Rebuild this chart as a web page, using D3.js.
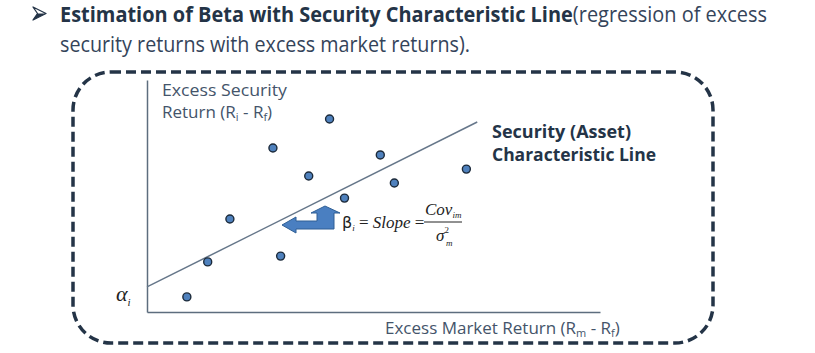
<!DOCTYPE html>
<html>
<head>
<meta charset="utf-8">
<script src="https://cdn.jsdelivr.net/npm/d3@7"></script>
<style>
  body { margin: 0; background: #fff; }
  svg { display: block; }
</style>
</head>
<body>
<div id="chart"></div>
<script>
// excess market return (x) vs excess security return (y), arbitrary units
var pointX = [0.88, 1.34, 1.83, 2.95, 2.78, 3.57, 4.03, 4.36, 5.15, 5.46, 7.05];
var pointY = [0.65, 2.16, 4.01, 2.41, 7.07, 5.86, 8.32, 4.91, 6.77, 5.56, 6.16];
// characteristic line ends
var lineX = [0, 7.29];
var lineY = [1.08, 8.19];
var xTitle = 'Excess Market Return';
var yTitle = ['Excess Security', 'Return'];
var lineLabel = ['Security (Asset)', 'Characteristic Line'];

var w = 815, h = 353;
var navy = '#243447', grey = '#44546a', blue = '#4f81bd';

var svg = d3.select('#chart').append('svg')
    .attr('width', w)
    .attr('height', h);

// heading bullet
svg.append('path')
    .attr('d', 'M33,7 L46,13.5 L33,20 L37.5,13.5 Z')
    .attr('fill', '#fff')
    .attr('stroke', navy)
    .attr('stroke-width', 1.3)
    .attr('stroke-linejoin', 'round');
svg.append('path')
    .attr('d', 'M37.5,13.5 L46,13.5 L33,20 Z')
    .attr('fill', navy);

var t1 = svg.append('text')
    .attr('x', 60).attr('y', 22)
    .attr('font-family', '"Open Sans", sans-serif')
    .attr('font-size', '21px')
    .attr('fill', '#34445a')
    .attr('textLength', 707)
    .attr('lengthAdjust', 'spacingAndGlyphs');
t1.append('tspan').attr('font-weight', 'bold').attr('fill', navy)
    .text('Estimation of Beta with Security Characteristic Line');
t1.append('tspan').text('(regression of excess');

svg.append('text')
    .attr('x', 60).attr('y', 52)
    .attr('font-family', '"Open Sans", sans-serif')
    .attr('font-size', '21px')
    .attr('fill', '#34445a')
    .attr('textLength', 410)
    .attr('lengthAdjust', 'spacingAndGlyphs')
    .text('security returns with excess market returns).');

// dashed frame
svg.append('rect')
    .attr('x', 73).attr('y', 72)
    .attr('width', 640).attr('height', 271)
    .attr('rx', 38).attr('ry', 38)
    .attr('fill', 'none')
    .attr('stroke', navy)
    .attr('stroke-width', 3.5)
    .attr('stroke-dasharray', '10,5');

var xscale = d3.scaleLinear().domain([0, 10]).range([147, 600]);
var yscale = d3.scaleLinear().domain([0, 10]).range([312, 80]);

var xAxis = d3.axisBottom(xscale).tickValues([]).tickSizeOuter(0);
var yAxis = d3.axisLeft(yscale).tickValues([]).tickSizeOuter(0);

svg.append('g')
    .attr('transform', 'translate(0,' + yscale(0) + ')')
    .call(xAxis);
svg.append('g')
    .attr('transform', 'translate(' + xscale(0) + ',0)')
    .call(yAxis);
svg.selectAll('.domain')
    .attr('stroke', '#5d6d7e')
    .attr('stroke-width', 1.5);

// axis titles
var yt = svg.append('g')
    .attr('font-family', '"Open Sans", sans-serif')
    .attr('fill', grey)
    .attr('font-size', '17px');
yt.append('text').attr('x', 162).attr('y', 96)
    .attr('textLength', 125).attr('lengthAdjust', 'spacingAndGlyphs')
    .text(yTitle[0]);
var yt2 = yt.append('text').attr('x', 162).attr('y', 118);
yt2.append('tspan').text(yTitle[1] + ' (R');
yt2.append('tspan').attr('font-size', '11px').attr('dy', 3).text('i');
yt2.append('tspan').attr('dy', -3).text(' - R');
yt2.append('tspan').attr('font-size', '11px').attr('dy', 3).text('f');
yt2.append('tspan').attr('dy', -3).text(')');

var xt = svg.append('text')
    .attr('x', 385).attr('y', 334)
    .attr('font-family', '"Open Sans", sans-serif')
    .attr('fill', grey)
    .attr('font-size', '17px');
xt.append('tspan').text(xTitle + ' (R');
xt.append('tspan').attr('font-size', '11px').attr('dy', 3).text('m');
xt.append('tspan').attr('dy', -3).text(' - R');
xt.append('tspan').attr('font-size', '11px').attr('dy', 3).text('f');
xt.append('tspan').attr('dy', -3).text(')');

// characteristic line
var line = d3.line()
    .x(function (d) { return xscale(d[0]); })
    .y(function (d) { return yscale(d[1]); });
svg.append('path')
    .attr('d', line(d3.zip(lineX, lineY)))
    .attr('stroke', '#66778a')
    .attr('stroke-width', 1.5)
    .attr('fill', 'none');

// points
svg.append('g').selectAll('circle')
    .data(d3.zip(pointX, pointY))
    .enter()
    .append('circle')
    .attr('cx', function (d) { return xscale(d[0]); })
    .attr('cy', function (d) { return yscale(d[1]); })
    .attr('r', 4)
    .attr('fill', blue)
    .attr('stroke', '#1c2a3a')
    .attr('stroke-width', 1.4);

// line label
var ll = svg.append('g')
    .attr('font-family', '"Open Sans", sans-serif')
    .attr('font-weight', 'bold')
    .attr('font-size', '17px')
    .attr('fill', navy);
ll.append('text').attr('x', 492).attr('y', 138)
    .attr('textLength', 139).attr('lengthAdjust', 'spacingAndGlyphs')
    .text(lineLabel[0]);
ll.append('text').attr('x', 492).attr('y', 161)
    .attr('textLength', 164).attr('lengthAdjust', 'spacingAndGlyphs')
    .text(lineLabel[1]);

// alpha intercept label
var al = svg.append('text')
    .attr('x', 116).attr('y', 301)
    .attr('font-family', '"Liberation Serif", serif')
    .attr('font-style', 'italic')
    .attr('font-size', '22px')
    .attr('fill', '#222');
al.append('tspan').text('\u03B1');
al.append('tspan').attr('font-size', '11px').attr('dy', 5).text('i');

// bent arrow pointing at the line
svg.append('path')
    .attr('d', 'M282,225 L296,217 L296,221 L317,221 L317,213 L311,213 L325,206 L340,213 L334,213 L334,229 L296,229 L296,233 Z')
    .attr('fill', '#4a7fc1')
    .attr('stroke', '#2f5f95')
    .attr('stroke-width', 1);

// formula
var f = svg.append('g')
    .attr('font-family', '"Liberation Serif", serif')
    .attr('fill', '#222');
var f1 = f.append('text').attr('x', 342).attr('y', 228).attr('font-size', '17px');
f1.append('tspan').attr('font-family', '"DejaVu Sans"').attr('font-size', '16px').text('\u03B2');
f1.append('tspan').attr('font-style', 'italic').attr('font-size', '9px').attr('dy', 3).text('i');
f1.append('tspan').attr('dy', -3).text(' = ');
f1.append('tspan').attr('font-style', 'italic').text('Slope');
f1.append('tspan').text(' =');
f.append('line')
    .attr('x1', 424).attr('x2', 462)
    .attr('y1', 222).attr('y2', 222)
    .attr('stroke', '#222').attr('stroke-width', 1);
var f2 = f.append('text').attr('x', 425).attr('y', 215).attr('font-size', '17px').attr('font-style', 'italic');
f2.append('tspan').text('Cov');
f2.append('tspan').attr('font-size', '9px').attr('dy', 3).text('im');
var f3 = f.append('text').attr('x', 436).attr('y', 241).attr('font-size', '17px').attr('font-style', 'italic');
f3.append('tspan').text('\u03C3');
f3.append('tspan').attr('font-size', '9px').attr('font-style', 'normal').attr('dy', -8).text('2');
f3.append('tspan').attr('font-size', '9px').attr('x', 446).attr('dy', 13).text('m');
</script>
</body>
</html>
